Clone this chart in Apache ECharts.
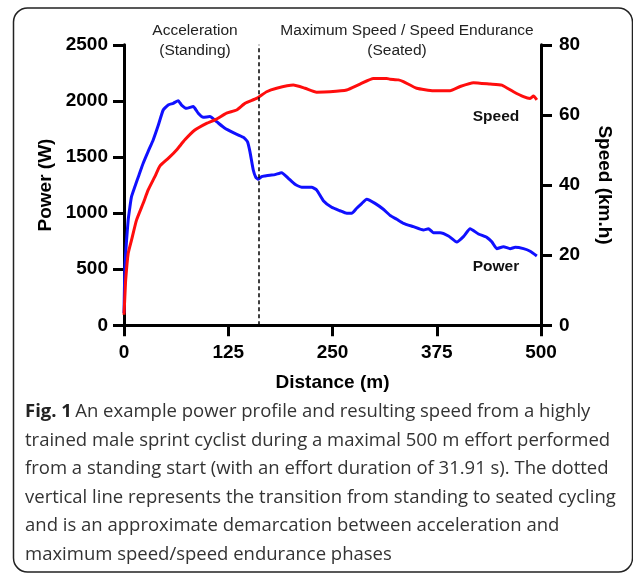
<!DOCTYPE html>
<html>
<head>
<meta charset="utf-8">
<script src="https://cdn.jsdelivr.net/npm/echarts@6/dist/echarts.min.js"></script>
<style>
html,body{margin:0;padding:0;background:#fff;}
#chart{width:633px;height:574px;}
</style>
</head>
<body>
<div id="chart"></div>
<script>
// ---- Data ----
var powerDistance = [0,1,3,5,7,9,13,18,23,29,35,41,47,53,59,65,69,75,83,89,95,103,111,121,131,143,148,151,155,158,161,165,169,175,181,189,197,205,213,225,231,239,249,259,267,273,279,285,291,301,311,319,327,335,347,359,365,371,379,389,399,407,415,425,435,441,447,455,463,469,479,487,495];
var powerValues = [110,500,750,938,1050,1146,1235,1340,1444,1550,1652,1780,1919,1964,1979,2002,1963,1934,1949,1890,1854,1860,1815,1756,1717,1676,1637,1548,1384,1320,1301,1325,1331,1338,1343,1360,1310,1257,1230,1230,1206,1111,1052,1021,998,998,1043,1085,1123,1087,1034,980,945,909,879,849,861,825,825,796,742,790,861,814,784,745,683,701,683,695,683,660,618];
var speedDistance = [0,1,2,5,9,15,23,29,37,43,53,63,73,85,99,111,123,135,145,159,171,183,203,217,231,247,267,283,299,315,319,329,335,351,371,391,403,419,439,453,467,479,487,491,495];
var speedValues = [3,8,12.9,20.5,24.3,30,34.8,38.6,42.4,45.4,47.6,50,52.9,55.7,57.6,58.8,60.5,61.4,63.3,64.7,66.6,67.6,68.5,67.6,66.5,66.6,67.1,68.8,70.4,70.4,70.2,70.0,69.5,67.6,66.9,66.9,68.1,69.2,68.8,68.5,66.6,65.2,64.7,65.4,64.3];
var transitionDistance = 161;
var xTicks = [0,125,250,375,500];
var phaseLabels = ['Acceleration','(Standing)','Maximum Speed / Speed Endurance','(Seated)'];
var seriesNames = ['Power','Speed'];
var captionLines = [
  'An example power profile and resulting speed from a highly',
  'trained male sprint cyclist during a maximal 500 m effort performed',
  'from a standing start (with an effort duration of 31.91 s). The dotted',
  'vertical line represents the transition from standing to seated cycling',
  'and is an approximate demarcation between acceleration and',
  'maximum speed/speed endurance phases'
];

function pairs(xs, ys){ return xs.map(function(x,i){ return [x, ys[i]]; }); }

var F = '"Liberation Sans", Arial, sans-serif';
var CF = '"Open Sans", sans-serif';
var axisLabelStyle = {fontSize:19, fontWeight:'bold', color:'#000', fontFamily:F};
var nameStyle = {fontSize:19, fontWeight:'bold', color:'#000', fontFamily:F};
var lineSt = {color:'#000', width:3};

var chart = echarts.init(document.getElementById('chart'), null, {renderer:'canvas'});

var graphics = [
  {type:'rect', shape:{x:13.5, y:8, width:619, height:564, r:14}, style:{fill:'none', stroke:'#222', lineWidth:1.5}, silent:true},
  {type:'text', x:195, y:31, style:{text:phaseLabels[0], font:'15.5px '+F, fill:'#222', textAlign:'center', textVerticalAlign:'middle'}},
  {type:'text', x:195, y:51, style:{text:phaseLabels[1], font:'15.5px '+F, fill:'#222', textAlign:'center', textVerticalAlign:'middle'}},
  {type:'text', x:407, y:31, style:{text:phaseLabels[2], font:'15.5px '+F, fill:'#222', textAlign:'center', textVerticalAlign:'middle'}},
  {type:'text', x:397, y:51, style:{text:phaseLabels[3], font:'15.5px '+F, fill:'#222', textAlign:'center', textVerticalAlign:'middle'}},
  {type:'text', x:496, y:117, style:{text:seriesNames[1], font:'bold 15.5px '+F, fill:'#111', textAlign:'center', textVerticalAlign:'middle'}},
  {type:'text', x:496, y:267, style:{text:seriesNames[0], font:'bold 15.5px '+F, fill:'#111', textAlign:'center', textVerticalAlign:'middle'}}
];
var capY = [412, 441, 469, 498, 526, 555];
captionLines.forEach(function(line, i){
  if(i===0){
    graphics.push({type:'text', x:25, y:capY[i], style:{
      text:'{b|Fig. 1} {n|'+line+'}',
      textVerticalAlign:'middle',
      rich:{
        b:{font:'bold 18.5px '+CF, fill:'#222'},
        n:{font:'18.5px '+CF, fill:'#333'}
      }
    }});
  } else {
    graphics.push({type:'text', x:25, y:capY[i], style:{text:line, font:'18.5px '+CF, fill:'#333', textVerticalAlign:'middle'}});
  }
});

chart.setOption({
  animation:false,
  backgroundColor:'#fff',
  grid:{left:124, right:92, top:44.8, bottom:248.7, containLabel:false},
  xAxis:{
    type:'value', min:0, max:500, interval:125,
    axisLine:{show:true, lineStyle:lineSt},
    axisTick:{show:true, length:11, lineStyle:lineSt},
    axisLabel:Object.assign({margin:18, formatter:function(v){ return xTicks.indexOf(v)>=0 ? String(v) : ''; }}, axisLabelStyle),
    splitLine:{show:false},
    name:'Distance (m)', nameLocation:'middle', nameGap:48, nameTextStyle:nameStyle
  },
  yAxis:[
    {
      type:'value', min:0, max:2500, interval:500, position:'left',
      axisLine:{show:true, onZero:false, lineStyle:lineSt},
      axisTick:{show:true, length:11, lineStyle:lineSt},
      axisLabel:Object.assign({margin:16, formatter:function(v){ return String(v); }}, axisLabelStyle),
      splitLine:{show:false},
      name:'Power (W)', nameLocation:'middle', nameGap:66, nameRotate:90, nameTextStyle:nameStyle
    },
    {
      type:'value', min:0, max:80, interval:20, position:'right',
      axisLine:{show:true, onZero:false, lineStyle:lineSt},
      axisTick:{show:true, length:11, lineStyle:lineSt},
      axisLabel:Object.assign({margin:18, formatter:function(v){ return String(v); }}, axisLabelStyle),
      splitLine:{show:false},
      name:'Speed (km.h)', nameLocation:'middle', nameGap:54, nameRotate:-90, nameTextStyle:nameStyle
    }
  ],
  series:[
    {
      name:seriesNames[0], type:'line', yAxisIndex:0, data:pairs(powerDistance, powerValues),
      showSymbol:false, symbol:'none', smooth:0.15,
      lineStyle:{color:'#1010ff', width:3},
      markLine:{
        silent:true, symbol:'none', label:{show:false},
        lineStyle:{color:'#000', type:[4,3], width:1.5},
        data:[{xAxis:transitionDistance}]
      }
    },
    {
      name:seriesNames[1], type:'line', yAxisIndex:1, data:pairs(speedDistance, speedValues),
      showSymbol:false, symbol:'none', smooth:0.15,
      lineStyle:{color:'#ff0d0d', width:3}
    }
  ],
  graphic:graphics
});
</script>
</body>
</html>
